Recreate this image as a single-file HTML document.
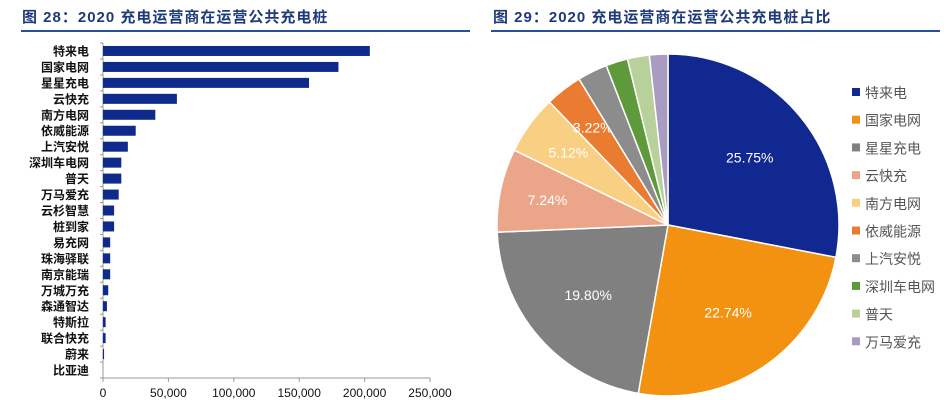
<!DOCTYPE html>
<html><head><meta charset="utf-8"><style>
body{margin:0;background:#fff;width:946px;height:400px;overflow:hidden;font-family:"Liberation Sans","Noto Sans CJK SC",sans-serif}
.title{position:absolute;top:6px;font-size:15px;font-weight:bold;color:#1f3a7a;letter-spacing:1px;font-family:"Liberation Sans","Noto Sans CJK SC",sans-serif}
.rule{position:absolute;top:30px;height:2px;background:#2a4d9a}
</style></head><body>
<div class="title" style="left:22px">图 28：2020 充电运营商在运营公共充电桩</div>
<div class="rule" style="left:21px;width:449px"></div>
<div class="title" style="left:493px">图 29：2020 充电运营商在运营公共充电桩占比</div>
<div class="rule" style="left:491px;width:449px"></div>
<svg id="bar" width="480" height="400" style="position:absolute;left:0;top:0"></svg>
<svg id="pie" width="946" height="400" style="position:absolute;left:0;top:0"></svg>
<script>
const barCategories=["特来电","国家电网","星星充电","云快充","南方电网","依威能源","上汽安悦","深圳车电网","普天","万马爱充","云杉智慧","桩到家","易充网","珠海驿联","南京能瑞","万城万充","森通智达","特斯拉","联合快充","蔚来","比亚迪"];
const barValues=[204000,180000,157500,56500,40000,25000,19000,14000,14000,12000,8500,8500,5500,5500,5500,4000,3000,2000,2000,800,0];
const xTickValues=[0,50000,100000,150000,200000,250000];
const xTickLabels=["0","50,000","100,000","150,000","200,000","250,000"];
const pieCategories=["特来电","国家电网","星星充电","云快充","南方电网","依威能源","上汽安悦","深圳车电网","普天","万马爱充"];
const pieValues=[25.75,22.74,19.80,7.24,5.12,3.22,2.6,1.9,1.9,1.6];
const pieLabels=["25.75%","22.74%","19.80%","7.24%","5.12%","3.22%","","","",""];
const pieColors=["#10288f","#f39110","#808080","#eba68a","#f9d083","#e97c30","#8c8c8c","#5e9a3c","#b8d09a","#a99cc0"];
const NS="http://www.w3.org/2000/svg";
function mk(p,t,a){const e=document.createElementNS(NS,t);for(const k in a)e.setAttribute(k,a[k]);p.appendChild(e);return e;}
// bar chart
const bar=document.getElementById('bar');
const X0=103,X1=430,Y0=43,Y1=378,XMAX=250000;
const xs=v=>X0+(v/XMAX)*(X1-X0);
const band=(Y1-Y0)/barCategories.length;
let ax=mk(bar,'line',{x1:X0,y1:Y0,x2:X0,y2:Y1,stroke:'#999','stroke-width':1});

ax=mk(bar,'line',{x1:X0,y1:Y1,x2:X1,y2:Y1,stroke:'#999','stroke-width':1});

for(let i=0;i<=barCategories.length;i++){mk(bar,'line',{x1:X0-3,y1:Y0+i*band,x2:X0,y2:Y0+i*band,stroke:'#999'});}
barCategories.forEach((c,i)=>{
  const cy=Y0+band*(i+0.5);
  const r=mk(bar,'rect',{x:X0,y:cy-5,width:Math.max(0,xs(barValues[i])-X0),height:10,fill:'#0e2a8a'});
  
  const t=mk(bar,'text',{x:89,y:cy+4.5,'text-anchor':'end','font-size':12,'font-weight':'bold',fill:'#111'});
  t.textContent=c;
});
xTickValues.forEach((v,i)=>{
  const x=xs(v);
  mk(bar,'line',{x1:x,y1:Y1,x2:x,y2:Y1+4,stroke:'#999'});
  const t=mk(bar,'text',{x:x,y:397,'text-anchor':'middle','font-size':12,fill:'#111'});
  t.textContent=xTickLabels[i];
});
// pie
const pie=document.getElementById('pie');
const CX=668,CY=225,R=171;
const total=pieValues.reduce((a,b)=>a+b,0);
let ang=0;
pieValues.forEach((v,i)=>{
  const a0=ang,a1=ang+v/total*2*Math.PI;ang=a1;
  const p=(a)=>[CX+R*Math.sin(a),CY-R*Math.cos(a)];
  const [x0,y0]=p(a0),[x1,y1]=p(a1);
  const s=mk(pie,'path',{d:`M${CX},${CY}L${x0},${y0}A${R},${R} 0 ${a1-a0>Math.PI?1:0} 1 ${x1},${y1}Z`,fill:pieColors[i],stroke:'#fff','stroke-width':1.5});
  
  if(pieLabels[i]){
    const am=(a0+a1)/2,rr=R*(i<3?0.62:0.72);
    const t=mk(pie,'text',{x:CX+rr*Math.sin(am),y:CY-rr*Math.cos(am)+5,'text-anchor':'middle','font-size':14,fill:'#fff'});
    t.textContent=pieLabels[i];
  }
  const ly=93+i*27.7;
  const sq=mk(pie,'rect',{x:852,y:ly-5,width:8,height:8,fill:pieColors[i]});
  
  const lt=mk(pie,'text',{x:865,y:ly+5,'font-size':14,fill:'#555'});
  lt.textContent=pieCategories[i];
});
</script>
</body></html>
